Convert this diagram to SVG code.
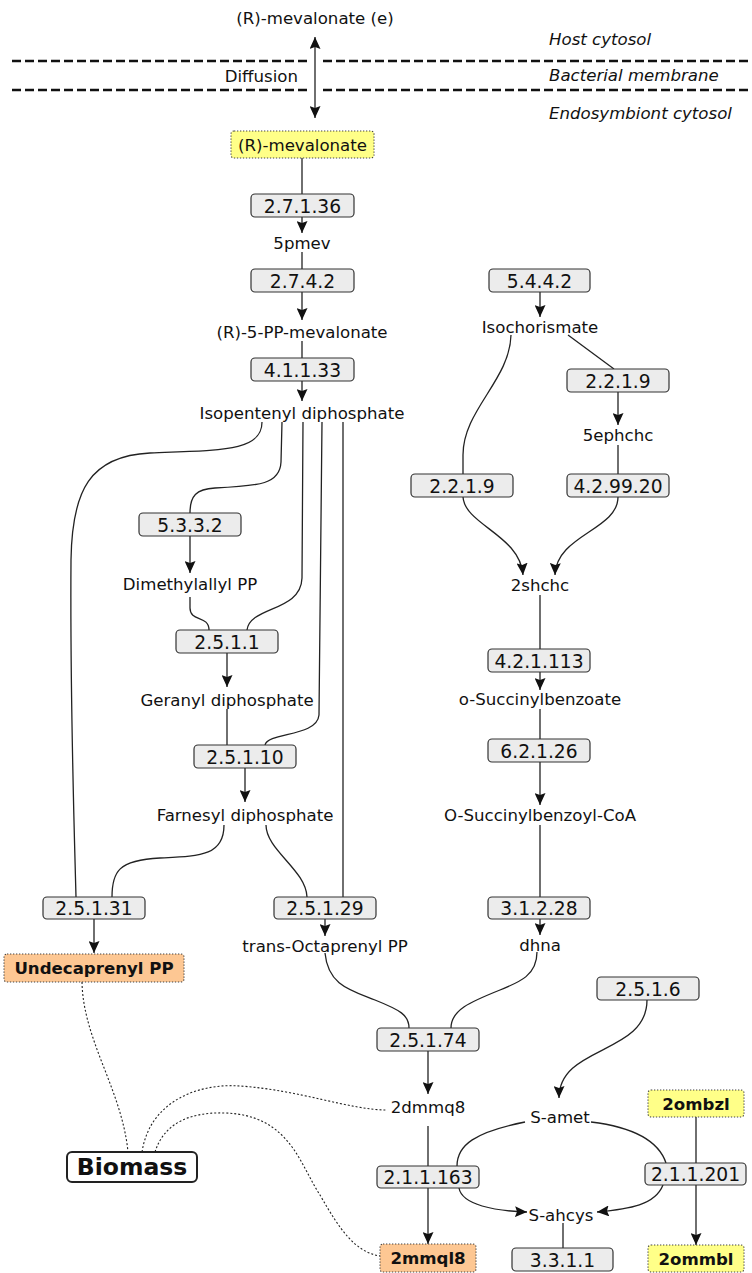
<svg xmlns="http://www.w3.org/2000/svg" width="752" height="1273" viewBox="0 0 752 1273">
  <style>
    text { font-family: "DejaVu Sans", "Liberation Sans", sans-serif; fill: #111; text-anchor: middle; }
    .met { font-size: 16.6px; }
    .enz { font-size: 18.7px; }
    .bold { font-size: 16.6px; font-weight: bold; }
    .zone { font-size: 16.6px; font-style: italic; text-anchor: start; }
    .ebox { fill: #ececec; stroke: #333; stroke-width: 1.2; }
    .ybox { fill: #ffff88; stroke: #444; stroke-width: 1.1; stroke-dasharray: 1.3 1.7; }
    .obox { fill: #fdc793; stroke: #444; stroke-width: 1.1; stroke-dasharray: 1.3 1.7; }
    .bio { fill: #fff; stroke: #222; stroke-width: 2; }
    .edge { fill: none; stroke: #222; stroke-width: 1.3; }
    .arr { marker-end: url(#ah); }
    .dot { fill: none; stroke: #222; stroke-width: 1.1; stroke-dasharray: 2 2; }
    .membrane { stroke: #111; stroke-width: 2.6; stroke-dasharray: 9 4; }
  </style>
  <defs>
    <marker id="ah" viewBox="0 0 12 11" refX="12" refY="5.5" markerWidth="12" markerHeight="11" orient="auto-start-reverse" markerUnits="userSpaceOnUse">
      <path d="M0,0 L12,5.5 L0,11 L2,5.5 z" fill="#111"/>
    </marker>
  </defs>

  <!-- compartments -->
  <g id="compartments">
    <line class="membrane" x1="12" y1="61" x2="307" y2="61"/>
    <line class="membrane" x1="323" y1="61" x2="752" y2="61"/>
    <line class="membrane" x1="12" y1="90" x2="307" y2="90"/>
    <line class="membrane" x1="323" y1="90" x2="752" y2="90"/>
    <text class="zone" x="549" y="45">Host cytosol</text>
    <text class="zone" x="549" y="81">Bacterial membrane</text>
    <text class="zone" x="549" y="119">Endosymbiont cytosol</text>
    <text class="met" x="298" y="82" style="text-anchor:end">Diffusion</text>
  </g>

  <!-- connectors -->
  <g id="connectors">
    <path class="edge" d="M315,37 L315,118" marker-start="url(#ah)" marker-end="url(#ah)"/>
    <path class="edge" d="M302,158 L302,194"/>
    <path class="edge arr" d="M302,217 L302,233"/>
    <path class="edge" d="M302,252 L302,269"/>
    <path class="edge arr" d="M302,292 L302,320"/>
    <path class="edge" d="M302,341 L302,358"/>
    <path class="edge arr" d="M302,381 L302,401"/>
    <!-- isopentenyl diphosphate branches -->
    <path class="edge" d="M262,422 C262,452 220,450 150,453 C90,456 72,490 71,560 C70,700 74,820 76,897"/>
    <path class="edge" d="M282,422 L281,462 C280,484 260,486 215,488 C196,489 190,496 190,513"/>
    <path class="edge" d="M303,422 L302,578 C301,612 250,606 247,630"/>
    <path class="edge" d="M322,422 L319,715 C317,737 268,732 265,745"/>
    <path class="edge" d="M343,422 L343,897"/>
    <path class="edge arr" d="M190,536 L190,573"/>
    <path class="edge" d="M190,597 L190,608 C190,622 209,615 209,630"/>
    <path class="edge arr" d="M227,653 L227,687"/>
    <path class="edge" d="M227,709 L227,745"/>
    <path class="edge arr" d="M245,768 L245,802"/>
    <path class="edge" d="M224,825 C224,856 200,856 160,858 C118,860 112,872 112,897"/>
    <path class="edge" d="M266,825 C266,850 306,870 307,897"/>
    <path class="edge arr" d="M94,919 L94,953"/>
    <path class="edge arr" d="M325,919 L325,936"/>
    <path class="edge" d="M325,953 C328,985 350,990 375,1000 C400,1010 409,1015 409,1028"/>
    <!-- menaquinone branch -->
    <path class="edge arr" d="M540,292 L540,317"/>
    <path class="edge" d="M511,335 C510,380 463,410 463,455 L463,474"/>
    <path class="edge" d="M568,335 L614,369"/>
    <path class="edge arr" d="M618,392 L618,425"/>
    <path class="edge" d="M618,445 L618,474"/>
    <path class="edge arr" d="M463,497 C465,525 520,535 523,575"/>
    <path class="edge arr" d="M618,497 C618,530 556,535 555,575"/>
    <path class="edge" d="M540,595 L540,649"/>
    <path class="edge arr" d="M540,672 L540,690"/>
    <path class="edge" d="M540,709 L540,739"/>
    <path class="edge arr" d="M540,762 L540,805"/>
    <path class="edge" d="M540,825 L540,897"/>
    <path class="edge arr" d="M540,919 L540,935"/>
    <path class="edge" d="M537,952 C537,975 520,982 500,990 C470,1002 451,1010 451,1028"/>
    <path class="edge arr" d="M428,1051 L428,1094"/>
    <path class="edge" d="M428,1126 L428,1166"/>
    <path class="edge arr" d="M428,1188 L428,1244"/>
    <!-- methylation -->
    <path class="edge arr" d="M647,1000 C647,1055 559,1045 559,1098"/>
    <path class="edge" d="M525,1122 C475,1132 457,1145 457,1166"/>
    <path class="edge" d="M591,1122 C640,1128 660,1145 666,1163"/>
    <path class="edge" d="M696,1117 L696,1163"/>
    <path class="edge arr" d="M696,1185 L696,1245"/>
    <path class="edge arr" d="M459,1188 C462,1205 495,1211 527,1212"/>
    <path class="edge arr" d="M663,1185 C655,1205 630,1209 597,1212"/>
    <path class="edge" d="M563,1223 L563,1248"/>
    <!-- biomass links -->
    <path class="dot" d="M82,982 C83,1040 122,1090 128,1152"/>
    <path class="dot" d="M142,1152 C150,1100 200,1083 240,1086 C300,1090 350,1110 387,1110"/>
    <path class="dot" d="M155,1152 C165,1120 195,1112 225,1113 C290,1115 300,1165 320,1195 C340,1230 355,1252 380,1256"/>
  </g>

  <!-- metabolites -->
  <g id="mevalonate_e"><text class="met" x="315" y="24">(R)-mevalonate (e)</text></g>
  <g id="mevalonate"><rect class="ybox" x="231" y="131" width="143" height="27" rx="3"/><text class="met" x="302.5" y="151">(R)-mevalonate</text></g>
  <g id="m_5pmev"><text class="met" x="302" y="249">5pmev</text></g>
  <g id="m_5ppmev"><text class="met" x="302" y="338">(R)-5-PP-mevalonate</text></g>
  <g id="m_ipdp"><text class="met" x="302" y="419">Isopentenyl diphosphate</text></g>
  <g id="m_dmpp"><text class="met" x="190" y="590">Dimethylallyl PP</text></g>
  <g id="m_grdp"><text class="met" x="227" y="706">Geranyl diphosphate</text></g>
  <g id="m_frdp"><text class="met" x="245" y="821">Farnesyl diphosphate</text></g>
  <g id="m_udcpdp"><rect class="obox" x="4" y="954" width="180" height="28" rx="3"/><text class="bold" x="94" y="974">Undecaprenyl PP</text></g>
  <g id="m_octdp"><text class="met" x="325" y="952">trans-Octaprenyl PP</text></g>
  <g id="m_ichor"><text class="met" x="540" y="333">Isochorismate</text></g>
  <g id="m_5ephchc"><text class="met" x="618" y="441">5ephchc</text></g>
  <g id="m_2shchc"><text class="met" x="540" y="591">2shchc</text></g>
  <g id="m_osb"><text class="met" x="540" y="705">o-Succinylbenzoate</text></g>
  <g id="m_osbcoa"><text class="met" x="540" y="821">O-Succinylbenzoyl-CoA</text></g>
  <g id="m_dhna"><text class="met" x="540" y="951">dhna</text></g>
  <g id="m_2dmmq8"><text class="met" x="428" y="1113">2dmmq8</text></g>
  <g id="m_2mmql8"><rect class="obox" x="380" y="1244" width="96" height="28" rx="3"/><text class="bold" x="428" y="1264">2mmql8</text></g>
  <g id="m_amet"><text class="met" x="560" y="1123">S-amet</text></g>
  <g id="m_ahcys"><text class="met" x="561" y="1221">S-ahcys</text></g>
  <g id="m_2ombzl"><rect class="ybox" x="648" y="1090" width="96" height="27" rx="3"/><text class="bold" x="696" y="1110">2ombzl</text></g>
  <g id="m_2ommbl"><rect class="ybox" x="648" y="1245" width="96" height="27" rx="3"/><text class="bold" x="696" y="1265">2ommbl</text></g>
  <g id="biomass"><rect class="bio" x="67" y="1152" width="130" height="30" rx="5"/><text x="132" y="1175" style="font-size:23.5px;font-weight:bold">Biomass</text></g>

  <!-- enzymes -->
  <g id="e_2_7_1_36"><rect class="ebox" x="251" y="194" width="103" height="23" rx="4"/><text class="enz" x="302.5" y="212.5">2.7.1.36</text></g>
  <g id="e_2_7_4_2"><rect class="ebox" x="251" y="269" width="103" height="23" rx="4"/><text class="enz" x="302.5" y="287.5">2.7.4.2</text></g>
  <g id="e_4_1_1_33"><rect class="ebox" x="251" y="358" width="103" height="23" rx="4"/><text class="enz" x="302.5" y="376.5">4.1.1.33</text></g>
  <g id="e_5_3_3_2"><rect class="ebox" x="139" y="513" width="102" height="23" rx="4"/><text class="enz" x="190" y="531.5">5.3.3.2</text></g>
  <g id="e_2_5_1_1"><rect class="ebox" x="176" y="630" width="102" height="23" rx="4"/><text class="enz" x="227" y="648.5">2.5.1.1</text></g>
  <g id="e_2_5_1_10"><rect class="ebox" x="194" y="745" width="102" height="23" rx="4"/><text class="enz" x="245" y="763.5">2.5.1.10</text></g>
  <g id="e_2_5_1_31"><rect class="ebox" x="43" y="897" width="102" height="22" rx="4"/><text class="enz" x="94" y="915">2.5.1.31</text></g>
  <g id="e_2_5_1_29"><rect class="ebox" x="274" y="897" width="102" height="22" rx="4"/><text class="enz" x="325" y="915">2.5.1.29</text></g>
  <g id="e_5_4_4_2"><rect class="ebox" x="489" y="269" width="101" height="23" rx="4"/><text class="enz" x="539.5" y="287.5">5.4.4.2</text></g>
  <g id="e_2_2_1_9a"><rect class="ebox" x="411" y="474" width="102" height="23" rx="4"/><text class="enz" x="462" y="492.5">2.2.1.9</text></g>
  <g id="e_2_2_1_9b"><rect class="ebox" x="567" y="369" width="102" height="23" rx="4"/><text class="enz" x="618" y="387.5">2.2.1.9</text></g>
  <g id="e_4_2_99_20"><rect class="ebox" x="567" y="474" width="102" height="23" rx="4"/><text class="enz" x="618" y="492.5">4.2.99.20</text></g>
  <g id="e_4_2_1_113"><rect class="ebox" x="488" y="649" width="102" height="23" rx="4"/><text class="enz" x="539" y="667.5">4.2.1.113</text></g>
  <g id="e_6_2_1_26"><rect class="ebox" x="488" y="739" width="102" height="23" rx="4"/><text class="enz" x="539" y="757.5">6.2.1.26</text></g>
  <g id="e_3_1_2_28"><rect class="ebox" x="488" y="897" width="102" height="22" rx="4"/><text class="enz" x="539" y="915">3.1.2.28</text></g>
  <g id="e_2_5_1_74"><rect class="ebox" x="377" y="1028" width="102" height="23" rx="4"/><text class="enz" x="428" y="1046.5">2.5.1.74</text></g>
  <g id="e_2_1_1_163"><rect class="ebox" x="377" y="1166" width="102" height="22" rx="4"/><text class="enz" x="428" y="1184">2.1.1.163</text></g>
  <g id="e_2_5_1_6"><rect class="ebox" x="597" y="977" width="102" height="23" rx="4"/><text class="enz" x="648" y="995.5">2.5.1.6</text></g>
  <g id="e_2_1_1_201"><rect class="ebox" x="645" y="1163" width="101" height="22" rx="4"/><text class="enz" x="695.5" y="1181">2.1.1.201</text></g>
  <g id="e_3_3_1_1"><rect class="ebox" x="512" y="1248" width="101" height="23" rx="4"/><text class="enz" x="562.5" y="1266.5">3.3.1.1</text></g>
</svg>
